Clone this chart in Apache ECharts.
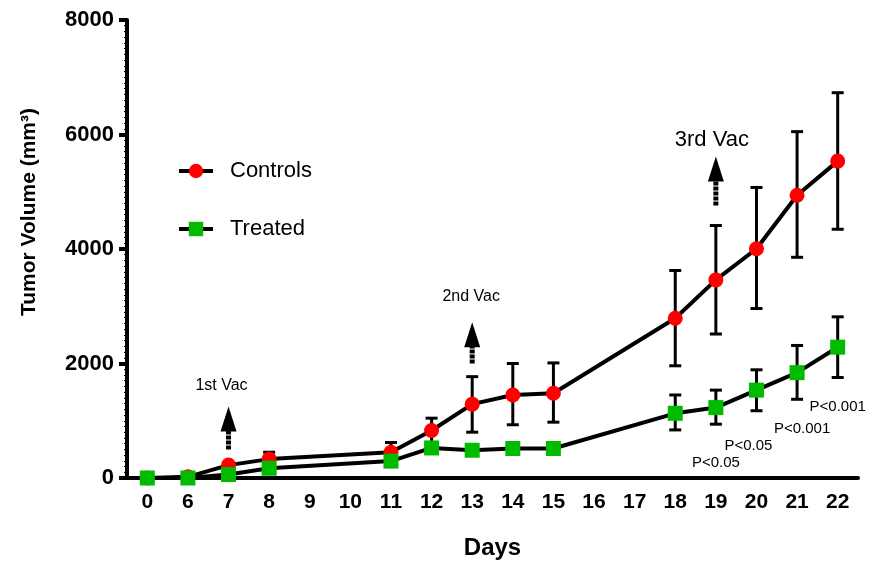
<!DOCTYPE html>
<html>
<head>
<meta charset="utf-8">
<script src="https://cdn.jsdelivr.net/npm/echarts@6/dist/echarts.min.js"></script>
<style>html,body{margin:0;padding:0;background:#fff}#c{width:869px;height:565px}</style>
</head>
<body>
<div id="c"></div>
<script>
const days = ['0','6','7','8','9','10','11','12','13','14','15','16','17','18','19','20','21','22'];
const yTicks = [0, 2000, 4000, 6000, 8000];

// Controls: mean, lower and upper end of error bar
const ctrlDays = ['0','6','7','8','11','12','13','14','15','18','19','20','21','22'];
const ctrlMean = [0, 20, 225, 330, 450, 830, 1290, 1450, 1480, 2790, 3460, 4005, 4940, 5535];
const ctrlLow  = [0, 20, 225, 330, 450, 620, 800, 930, 975, 1960, 2515, 2960, 3855, 4345];
const ctrlHigh = [0, 20, 225, 450, 620, 1045, 1770, 2000, 2010, 3625, 4410, 5075, 6050, 6730];

const trtDays = ['0','6','7','8','11','12','13','14','15','18','19','20','21','22'];
const trtMean = [0, 0, 60, 170, 295, 525, 485, 515, 515, 1130, 1230, 1535, 1840, 2285];
const trtLow  = [0, 0, 60, 170, 295, 525, 485, 515, 515, 840, 940, 1175, 1375, 1755];
const trtHigh = [0, 0, 60, 170, 295, 525, 485, 515, 515, 1450, 1535, 1890, 2315, 2815];

// Vaccination annotations
const vacDays = ['7', '13', '19'];
const vacText = ['1st Vac', '2nd Vac', '3rd Vac'];
const vacArrowFrom = [500, 2000, 4760];
const vacArrowTo = [1250, 2720, 5615];
const vacTextValue = [1610, 3170, 5905];

// P-value annotations
const pDays = ['19', '20', '21', '22'];
const pText = ['P<0.05', 'P<0.05', 'P<0.001', 'P<0.001'];
const pValuePos = [260, 570, 865, 1247];

const FONT = 'Liberation Sans, Arial, sans-serif';
const idx = d => days.indexOf(d);

function errData(dd, lo, hi) { return dd.map((d, i) => [idx(d), lo[i], hi[i]]); }

function errRender(params, api) {
  const x = api.value(0);
  const lo = api.coord([x, api.value(1)]);
  const hi = api.coord([x, api.value(2)]);
  if (Math.abs(hi[1] - lo[1]) < 1) return null;
  const w = 6;
  const st = { stroke: '#000', lineWidth: 3 };
  return {
    type: 'group',
    children: [
      { type: 'line', shape: { x1: lo[0], y1: lo[1], x2: hi[0], y2: hi[1] }, style: st },
      { type: 'line', shape: { x1: lo[0] - w, y1: lo[1], x2: lo[0] + w, y2: lo[1] }, style: st },
      { type: 'line', shape: { x1: hi[0] - w, y1: hi[1], x2: hi[0] + w, y2: hi[1] }, style: st }
    ]
  };
}

const vacOffsets = [-7, -1, -4];
const vacFontSizes = [16, 16, 22];

function vacRender(params, api) {
  const i = params.dataIndex;
  const x = api.value(0);
  const b = api.coord([x, api.value(1)]);
  const t = api.coord([x, api.value(2)]);
  const tp = api.coord([x, api.value(3)]);
  const headH = 25, headW = 8;
  return {
    type: 'group',
    children: [
      { type: 'line', shape: { x1: b[0], y1: b[1], x2: b[0], y2: t[1] + headH - 1 },
        style: { stroke: '#000', lineWidth: 5, lineDash: [4, 1] } },
      { type: 'polygon', shape: { points: [[t[0], t[1]], [t[0] - headW, t[1] + headH], [t[0] + headW, t[1] + headH]] },
        style: { fill: '#000' } },
      { type: 'text', x: tp[0] + vacOffsets[i], y: tp[1],
        style: { text: vacText[i], fill: '#000', font: vacFontSizes[i] + 'px ' + FONT, align: 'center', verticalAlign: 'middle' } }
    ]
  };
}

const pOffsets = [0, -8, 5, 0];
function pRender(params, api) {
  const i = params.dataIndex;
  const p = api.coord([api.value(0), api.value(1)]);
  return { type: 'text', x: p[0] + pOffsets[i], y: p[1],
    style: { text: pText[i], fill: '#000', font: '15px ' + FONT, align: 'center', verticalAlign: 'middle' } };
}

const chart = echarts.init(document.getElementById('c'));
chart.setOption({
  animation: false,
  backgroundColor: '#fff',
  grid: { left: 127, right: 11, top: 20, bottom: 83, containLabel: false },
  legend: {
    orient: 'vertical', left: 172, top: 155, itemWidth: 34, itemHeight: 18, itemGap: 36,
    lineStyle: { width: 4, color: '#000' },
    textStyle: { fontSize: 22, fontFamily: FONT, color: '#000', padding: [0, 0, 0, 12] },
    data: ['Controls', 'Treated']
  },
  graphic: [{
    type: 'text', x: 29, y: 212, rotation: Math.PI / 2,
    style: { text: 'Tumor Volume (mm³)', font: 'bold 21px ' + FONT, fill: '#000', align: 'center', verticalAlign: 'middle' }
  }],
  xAxis: {
    type: 'category', data: days, boundaryGap: true,
    name: 'Days', nameLocation: 'middle', nameGap: 58,
    nameTextStyle: { fontSize: 24, fontWeight: 'bold', fontFamily: FONT, color: '#000' },
    axisLine: { lineStyle: { color: '#000', width: 4 } },
    axisTick: { alignWithLabel: true, length: 8, lineStyle: { color: '#000', width: 4 } },
    axisLabel: { fontSize: 21, fontWeight: 'bold', fontFamily: FONT, color: '#000', margin: 14 },
    splitLine: { show: false }
  },
  yAxis: {
    type: 'value', min: yTicks[0], max: yTicks[yTicks.length - 1], interval: 2000,
    axisLine: { show: true, lineStyle: { color: '#000', width: 4 } },
    axisTick: { show: true, length: 8, lineStyle: { color: '#000', width: 4 } },
    minorTick: { show: true, splitNumber: 20, length: 3, lineStyle: { color: '#000', width: 1 } },
    axisLabel: { fontSize: 22, fontWeight: 'bold', fontFamily: FONT, color: '#000', margin: 13,
      formatter: v => String(v) },
    splitLine: { show: false }
  },
  series: [
    { type: 'custom', name: 'ctrlErr', renderItem: errRender, data: errData(ctrlDays, ctrlLow, ctrlHigh), z: 1, silent: true },
    { type: 'custom', name: 'trtErr', renderItem: errRender, data: errData(trtDays, trtLow, trtHigh), z: 1, silent: true },
    {
      type: 'line', name: 'Controls', data: ctrlDays.map((d, i) => [idx(d), ctrlMean[i]]),
      symbol: 'circle', symbolSize: 15, itemStyle: { color: '#ff0000' },
      lineStyle: { color: '#000', width: 4 }, z: 3
    },
    {
      type: 'line', name: 'Treated', data: trtDays.map((d, i) => [idx(d), trtMean[i]]),
      symbol: 'rect', symbolSize: 15, itemStyle: { color: '#00bb00' },
      lineStyle: { color: '#000', width: 4 }, z: 4
    },
    { type: 'custom', name: 'vac', renderItem: vacRender,
      data: vacDays.map((d, i) => [idx(d), vacArrowFrom[i], vacArrowTo[i], vacTextValue[i]]), z: 5, silent: true },
    { type: 'custom', name: 'pvals', renderItem: pRender,
      data: pDays.map((d, i) => [idx(d), pValuePos[i]]), z: 5, silent: true, clip: false }
  ]
});
</script>
</body>
</html>
